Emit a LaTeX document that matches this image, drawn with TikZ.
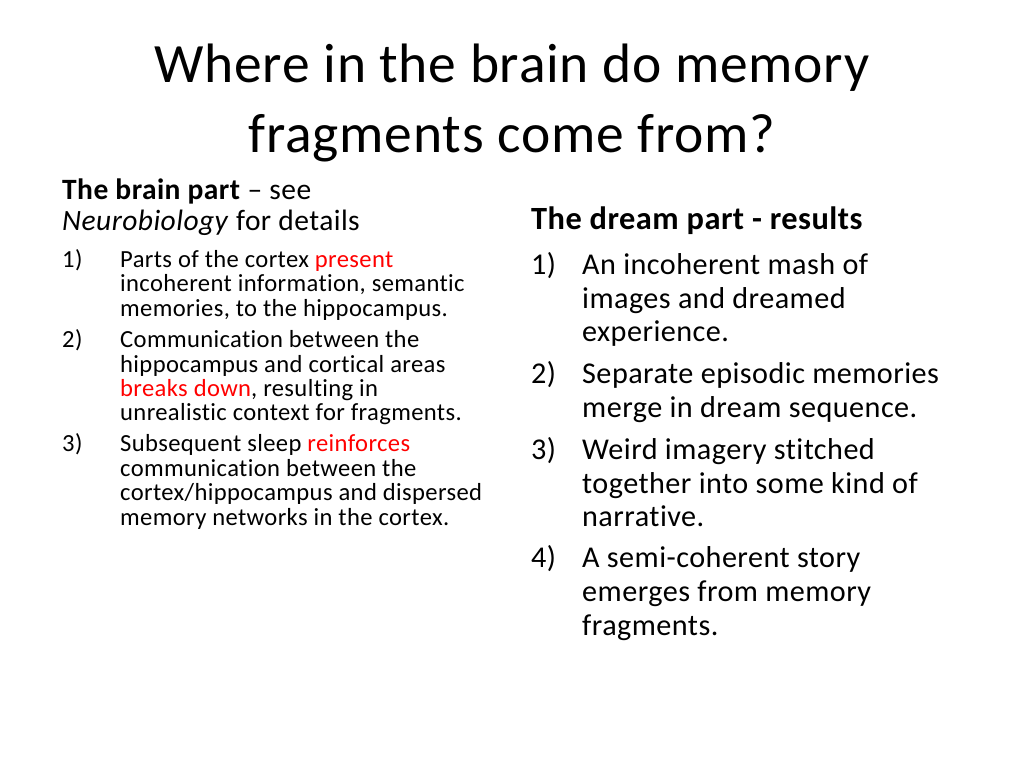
\documentclass[tikz,border=0pt]{standalone}
\usepackage{fontspec}
\setmainfont[Ligatures=NoCommon,LetterSpace=1.5]{Carlito}
\begin{document}
\begin{tikzpicture}[x=1pt,y=-1pt,
 t/.style={anchor=base west,inner sep=0pt},
 ttl/.style={anchor=base,inner sep=0pt,font=\fontsize{55.5}{60}\selectfont},
 ls/.style={t,font=\fontsize{24.6}{24}\selectfont},
 hs/.style={t,font=\fontsize{29.5}{30}\selectfont},
 hd/.style={t,font=\fontsize{32.4}{30}\selectfont},
 rs/.style={t,font=\fontsize{30.2}{32}\selectfont}]
\useasboundingbox (0,0) rectangle (1024,768);
\node[ttl] (t1) at (512,82) {Where in the brain do memory};
\node[ttl] (t2) at (512,152) {fragments come from?};
\node[hs] (h1) at (62,199) {\textbf{The brain part} -- see};
\node[hs] (h2) at (62,230) {\textit{Neurobiology} for details};
\node[hd] (h3) at (531,229) {\textbf{The dream part - results}};
\foreach \n/\y in {1/267,2/347,3/451}{\node[ls] (ln\n) at (62,\y) {\n)};}
\node[ls] (l1) at (120,267) {Parts of the cortex \textcolor{red}{present}};
\node[ls] (l2) at (120,291) {incoherent information, semantic};
\node[ls] (l3) at (120,316) {memories, to the hippocampus.};
\node[ls] (l4) at (120,347) {Communication between the};
\node[ls] (l5) at (120,372) {hippocampus and cortical areas};
\node[ls] (l6) at (120,396) {\textcolor{red}{breaks down}, resulting in};
\node[ls] (l7) at (120,420) {unrealistic context for fragments.};
\node[ls] (l8) at (120,451) {Subsequent sleep \textcolor{red}{reinforces}};
\node[ls] (l9) at (120,476) {communication between the};
\node[ls] (l10) at (120,500) {cortex/hippocampus and dispersed};
\node[ls] (l11) at (120,525) {memory networks in the cortex.};
\foreach \n/\y in {1/274,2/383,3/459,4/567}{\node[rs] (rn\n) at (531,\y) {\n)};}
\node[rs] (r1) at (582,274) {An incoherent mash of};
\node[rs] (r2) at (582,308) {images and dreamed};
\node[rs] (r3) at (582,341) {experience.};
\node[rs] (r4) at (582,383) {Separate episodic memories};
\node[rs] (r5) at (582,417) {merge in dream sequence.};
\node[rs] (r6) at (582,459) {Weird imagery stitched};
\node[rs] (r7) at (582,493) {together into some kind of};
\node[rs] (r8) at (582,526) {narrative.};
\node[rs] (r9) at (582,567) {A semi-coherent story};
\node[rs] (r10) at (582,601) {emerges from memory};
\node[rs] (r11) at (582,635) {fragments.};
\end{tikzpicture}
\end{document}
